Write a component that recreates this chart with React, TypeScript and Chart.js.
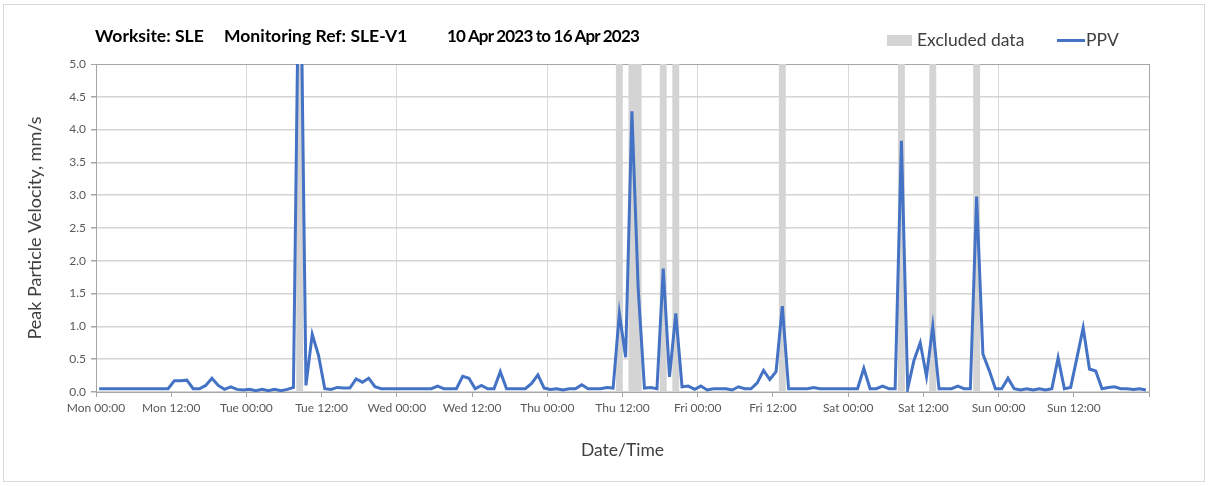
import { useEffect, useRef } from 'react';
import { Chart, registerables } from 'chart.js';

Chart.register(...registerables);

const TITLE_PARTS = ['Worksite: SLE', 'Monitoring Ref: SLE-V1', '10 Apr 2023 to 16 Apr 2023'];
const X_TITLE = 'Date/Time';
const Y_TITLE = 'Peak Particle Velocity, mm/s';
const PPV_LABEL = 'PPV';
const EXCLUDED_LABEL = 'Excluded data';

const DAY_NAMES = ['Mon', 'Tue', 'Wed', 'Thu', 'Fri', 'Sat', 'Sun'];
const HALF_DAY_TIMES = ['00:00', '12:00'];

// Hourly PPV maxima (mm/s), Mon 00:00 .. Sun 23:00
const ppvValues = [
  0.05, 0.05, 0.05, 0.05, 0.05, 0.05, 0.05, 0.05, 0.05, 0.05, 0.05, 0.05,
  0.17, 0.17, 0.18, 0.05, 0.05, 0.10, 0.21, 0.10, 0.04, 0.08, 0.04, 0.03,
  0.04, 0.02, 0.04, 0.02, 0.04, 0.02, 0.04, 0.07, 7.8, 0.10, 0.88, 0.56,
  0.05, 0.04, 0.07, 0.06, 0.06, 0.20, 0.15, 0.21, 0.08, 0.05, 0.05, 0.05,
  0.05, 0.05, 0.05, 0.05, 0.05, 0.05, 0.09, 0.05, 0.05, 0.05, 0.24, 0.21,
  0.05, 0.10, 0.05, 0.05, 0.31, 0.05, 0.05, 0.05, 0.05, 0.13, 0.26, 0.06,
  0.04, 0.05, 0.03, 0.05, 0.05, 0.11, 0.05, 0.05, 0.05, 0.07, 0.06, 1.20,
  0.53, 4.28, 1.58, 0.06, 0.07, 0.05, 1.88, 0.23, 1.20, 0.08, 0.09, 0.04,
  0.09, 0.03, 0.05, 0.05, 0.05, 0.03, 0.08, 0.05, 0.05, 0.14, 0.33, 0.19,
  0.31, 1.31, 0.05, 0.05, 0.05, 0.05, 0.07, 0.05, 0.05, 0.05, 0.05, 0.05,
  0.05, 0.05, 0.36, 0.05, 0.05, 0.09, 0.05, 0.05, 3.83, 0.05, 0.48, 0.75,
  0.24, 1.00, 0.05, 0.05, 0.05, 0.09, 0.05, 0.05, 2.98, 0.58, 0.33, 0.05,
  0.05, 0.21, 0.05, 0.03, 0.05, 0.03, 0.05, 0.03, 0.05, 0.52, 0.05, 0.07,
  0.52, 0.98, 0.35, 0.32, 0.05, 0.07, 0.08, 0.05, 0.05, 0.04, 0.05, 0.03,
];

// Hours (index into ppvValues) flagged as excluded
const excludedHours = [32, 83, 85, 86, 90, 92, 109, 128, 133, 140];

const Y_MIN = 0;
const Y_MAX = 5;
const Y_STEP = 0.5;
const X_MIN = 0;
const X_MAX = 168;
const X_STEP = 12;

const FONT = 'Lato, "Open Sans", "Noto Sans", sans-serif';
const LINE_COLOR = '#4472C4';
const BAND_COLOR = '#d4d4d4';
const TITLE_LEFTS = [91, 220, 443];
const TITLE_SIZES = [17.5, 17.5, 17];
const TITLE_SPACING = ['0px', '0px', '-0.8px'];

export default function App() {
  const canvasRef = useRef<HTMLCanvasElement | null>(null);

  useEffect(() => {
    const canvas = canvasRef.current;
    if (!canvas) return;

    const lineData = ppvValues.map((v, i) => ({ x: i + 0.5, y: v }));
    const bandData = excludedHours.map((h) => ({ x: h + 0.5, y: Y_MAX }));

    const chart = new Chart(canvas, {
      type: 'line',
      data: {
        datasets: [
          {
            type: 'bar',
            label: EXCLUDED_LABEL,
            data: bandData,
            backgroundColor: BAND_COLOR,
            borderWidth: 0,
            barPercentage: 1,
            categoryPercentage: 1,
            order: 2,
          } as any,
          {
            type: 'line',
            label: PPV_LABEL,
            data: lineData,
            borderColor: LINE_COLOR,
            backgroundColor: LINE_COLOR,
            borderWidth: 3,
            pointRadius: 0,
            tension: 0,
            fill: false,
            order: 1,
          },
        ],
      },
      options: {
        animation: false,
        responsive: false,
        maintainAspectRatio: false,
        layout: { padding: { left: 0, top: 59, right: 55, bottom: 19 } },
        plugins: {
          legend: { display: false },
          title: { display: false },
          tooltip: { enabled: false },
        },
        scales: {
          x: {
            type: 'linear',
            min: X_MIN,
            max: X_MAX,
            offset: false,
            afterFit: (scale: any) => {
              scale.height = 70;
            },
            ticks: {
              stepSize: X_STEP,
              autoSkip: false,
              maxRotation: 0,
              minRotation: 0,
              padding: 4,
              color: '#595959',
              font: { family: FONT, size: 12 },
              callback: (value: any) => {
                const v = Number(value);
                if (v >= X_MAX) return '';
                const day = DAY_NAMES[Math.floor(v / 24)];
                const t = HALF_DAY_TIMES[(v % 24) / 12];
                return `${day} ${t}`;
              },
            },
            grid: {
              offset: false,
              drawTicks: true,
              tickLength: 5,
              tickColor: '#a6a6a6',
              color: (ctx: any) => {
                const v = ctx.tick ? ctx.tick.value : 0;
                if (v === X_MAX) return '#a6a6a6';
                return v % 24 === 0 ? '#d9d9d9' : 'rgba(0,0,0,0)';
              },
              lineWidth: 1,
            },
            border: { display: true, color: '#a6a6a6', width: 1 },
            title: {
              display: true,
              text: X_TITLE,
              color: '#404040',
              font: { family: FONT, size: 17.5 },
              padding: { top: 0, bottom: 1.5 },
            },
          },
          y: {
            type: 'linear',
            min: Y_MIN,
            max: Y_MAX,
            afterFit: (scale: any) => {
              scale.width = 92;
            },
            ticks: {
              stepSize: Y_STEP,
              padding: 5,
              color: '#595959',
              font: { family: FONT, size: 12 },
              callback: (value: any) => Number(value).toFixed(1),
            },
            grid: {
              drawTicks: true,
              tickLength: 5,
              tickColor: '#a6a6a6',
              color: (ctx: any) => {
                const v = ctx.tick ? ctx.tick.value : 0;
                return v === Y_MAX ? '#a6a6a6' : '#d4d4d4';
              },
              lineWidth: (ctx: any) => {
                const v = ctx.tick ? ctx.tick.value : 0;
                return v === Y_MAX ? 1 : 1.5;
              },
            },
            border: { display: true, color: '#a6a6a6', width: 1 },
            title: {
              display: true,
              text: Y_TITLE,
              color: '#404040',
              font: { family: FONT, size: 18 },
              padding: { top: 20, bottom: 0 },
            },
          },
        },
      },
    });

    return () => {
      chart.destroy();
    };
  }, []);

  return (
    <div
      style={{
        position: 'absolute',
        left: 3,
        top: 4,
        width: 1202,
        height: 478,
        border: '1px solid #d9d9d9',
        boxSizing: 'border-box',
        background: '#fff',
        fontFamily: FONT,
      }}
    >
      <canvas ref={canvasRef} width={1200} height={476} style={{ position: 'absolute', left: 0, top: 0, width: 1200, height: 476 }} />
      {TITLE_PARTS.map((part, i) => (
        <div
          key={part}
          style={{
            position: 'absolute',
            left: TITLE_LEFTS[i],
            top: 20,
            lineHeight: '22px',
            fontSize: TITLE_SIZES[i],
            fontWeight: 700,
            color: '#000',
            whiteSpace: 'pre',
            letterSpacing: TITLE_SPACING[i],
          }}
        >
          {part}
        </div>
      ))}
      <div style={{ position: 'absolute', left: 883, top: 30, width: 25, height: 11, background: BAND_COLOR }} />
      <div
        style={{ position: 'absolute', left: 913, top: 24, lineHeight: '22px', fontSize: 17.5, color: '#404040', whiteSpace: 'pre' }}
      >
        {EXCLUDED_LABEL}
      </div>
      <div style={{ position: 'absolute', left: 1053, top: 33.5, width: 28, height: 3, background: LINE_COLOR }} />
      <div
        style={{ position: 'absolute', left: 1082, top: 24, lineHeight: '22px', fontSize: 17.5, color: '#404040', whiteSpace: 'pre' }}
      >
        {PPV_LABEL}
      </div>
    </div>
  );
}
